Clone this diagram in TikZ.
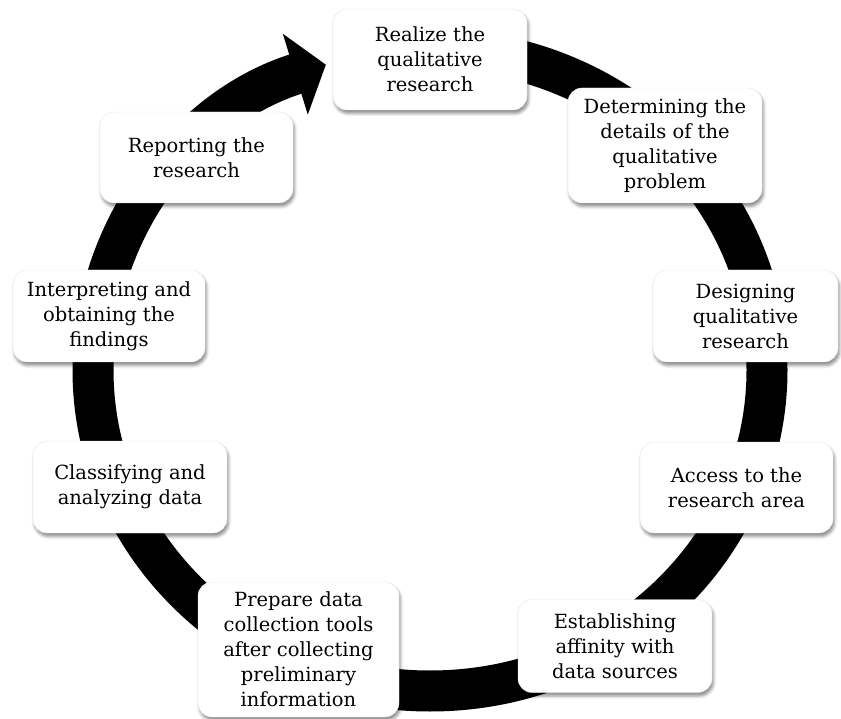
\documentclass[tikz,border=0pt]{standalone}
\usepackage{fontspec}
\setmainfont{DejaVu Serif}
\usepackage{tikz}
\usetikzlibrary{arrows.meta,shadows.blur}
\tikzset{
  stage/.style={draw=black!10, fill=white, rounded corners=14pt, align=center,
    inner sep=3pt, font=\fontsize{19.5}{25}\selectfont,
    blur shadow={shadow xshift=1.5pt, shadow yshift=-3.5pt,
      shadow blur radius=3pt, shadow opacity=45}},
  ring/.style={line width=41pt, -{Triangle[length=32pt,width=83pt]}},
}

\begin{document}
\begin{tikzpicture}[x=1pt,y=1pt]
		%%%%% START %%%%%
		\useasboundingbox (0,0) rectangle (841,-719);
		
		% the cycle
		\draw[ring] (430,-370) ++(90:337 and 321)
			arc[start angle=90, end angle=-252, x radius=337, y radius=321];
		
		% the stages, clockwise from the top
		\node[stage, minimum width=194pt, minimum height=101pt] (realize) at (430,-59.5) {Realize the\\qualitative\\research};
		\node[stage, minimum width=194pt, minimum height=115pt] (details) at (665,-145.5) {Determining the\\details of the\\qualitative\\problem};
		\node[stage, minimum width=185pt, minimum height=92pt] (design) at (745.5,-316) {Designing\\qualitative\\research};
		\node[stage, minimum width=193pt, minimum height=91pt] (access) at (736.5,-487.5) {Access to the\\research area};
		\node[stage, minimum width=194pt, minimum height=93pt] (affinity) at (615,-646) {Establishing\\affinity with\\data sources};
		\node[stage, minimum width=201pt, minimum height=135pt] (prepare) at (298.5,-649.5) {Prepare data\\collection tools\\after collecting\\preliminary\\information};
		\node[stage, minimum width=194pt, minimum height=92pt] (classify) at (130,-487) {Classifying and\\analyzing data};
		\node[stage, minimum width=192pt, minimum height=92pt] (interpret) at (109,-316) {Interpreting and\\obtaining the\\findings};
		\node[stage, minimum width=193pt, minimum height=91pt] (report) at (196.5,-157.5) {Reporting the\\research};
		%%%%% END %%%%%
\end{tikzpicture}
\end{document}
